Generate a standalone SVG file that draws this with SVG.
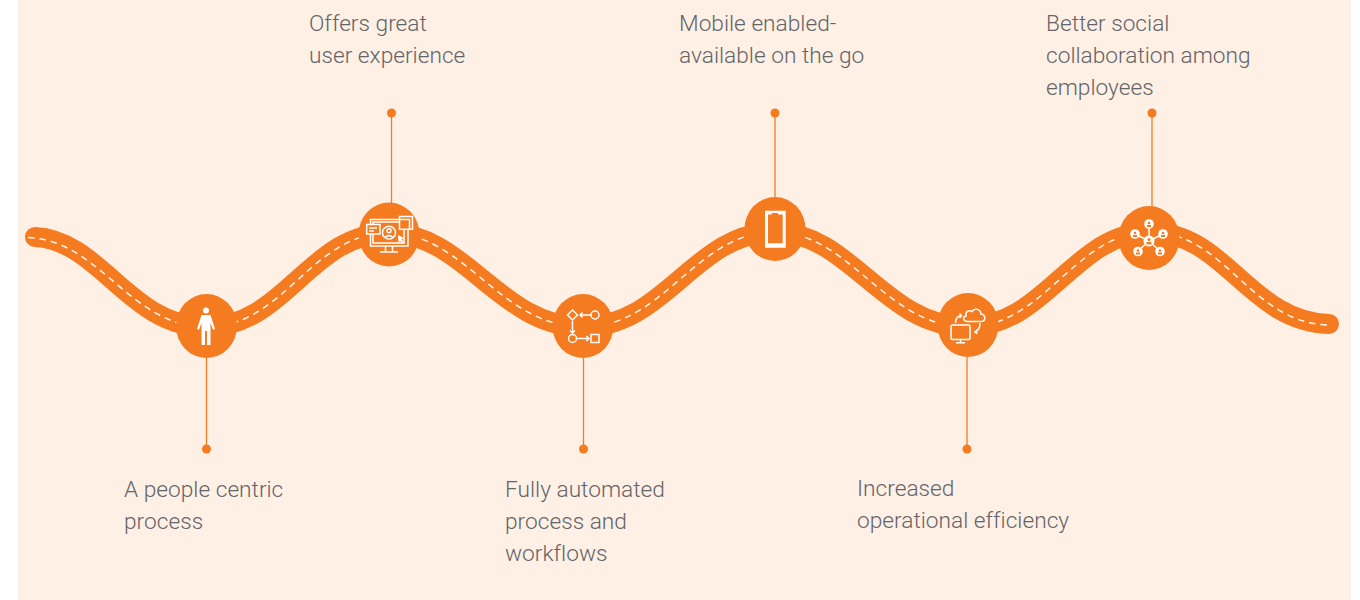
<svg xmlns="http://www.w3.org/2000/svg" width="1360" height="600" viewBox="0 0 1360 600">
<style>
.road{fill:none;stroke:#F47B20;stroke-width:20;stroke-linecap:round}
.dash{fill:none;stroke:#FFF6EF;stroke-width:1.500;stroke-dasharray:6.500 5}
.lead{stroke:#F47B20;stroke-width:1.300;fill:none}
.dot{fill:#F47B20}
.disc{fill:#F47B20}
.ic{fill:none;stroke:#fff;stroke-width:1.500}
.icf{fill:#fff;stroke:none}
.icb{fill:#F47B20;stroke:#fff;stroke-width:1.500}
text{font-family:Roboto,"Liberation Sans",sans-serif;font-weight:300;font-size:22.700px;fill:#636466;font-variant-ligatures:none}
</style>
<rect x="18" y="0" width="1333" height="600" fill="#FFF0E6"/>
<g id="connectors">
<path class="road" d="M35 237C100 240 130 327 206 327C285 327 310 233 389 233C465 233 500 327 583 327C665 327 695 232 775 232C850 232 885 327 967 327C1045 327 1075 232 1150 232C1225 232 1250 322 1329 324"/>
<path class="dash" d="M28 237.500C100 240 130 327 206 327C285 327 310 233 389 233C465 233 500 327 583 327C665 327 695 232 775 232C850 232 885 327 967 327C1045 327 1075 232 1150 232C1225 232 1250 322 1327 325"/>
<path class="lead" d="M206.500 350V449M391.500 113V215M583.500 350V449M775 113V210M967 350V449M1152 113V215"/>
<circle class="dot" cx="206.500" cy="449" r="4.500"/>
<circle class="dot" cx="391.500" cy="113" r="4.500"/>
<circle class="dot" cx="583.500" cy="449" r="4.500"/>
<circle class="dot" cx="775" cy="113" r="4.500"/>
<circle class="dot" cx="967" cy="449" r="4.500"/>
<circle class="dot" cx="1152" cy="113" r="4.500"/>
</g>
<g id="node-people">
<ellipse class="disc" cx="206.500" cy="326" rx="30.500" ry="32"/>
<circle class="icf" cx="206" cy="310.500" r="3"/>
<path class="icf" d="M201.500 315H210.500L215 329L213 329.800L210.500 323V345H207V331H205V345H201.500V323L199 329.800L197 329Z"/>
<text x="124" y="497">A people centric</text>
<text x="124" y="529">process</text>
</g>
<g id="node-experience">
<ellipse class="disc" cx="389" cy="234.500" rx="30.500" ry="32"/>
<rect class="ic" x="370.500" y="219.500" width="37.500" height="26.500"/>
<rect class="ic" x="373" y="222" width="31" height="21" stroke-width="1"/>
<path class="ic" d="M385.500 246V251.500M392.500 246V251.500M380 252H398"/>
<circle class="ic" cx="389" cy="232.700" r="6.500"/>
<circle class="ic" cx="389" cy="230.800" r="2"/>
<path class="ic" d="M384.800 237.500Q389 233.800 393.200 237.500"/>
<path class="icf" d="M398 235L404 238L401.500 239.500L404.500 242.500L403 244L400 241L398.500 243Z"/>
<rect class="icb" x="366.700" y="224.500" width="13.300" height="9.500"/>
<path class="ic" d="M369 228H377M369 231H374" stroke-width="1"/>
<rect class="icb" x="399.500" y="216.500" width="13" height="12.800"/>
<path class="ic" d="M399.500 219.500H409.500V229" stroke-width="1"/>
<text x="309" y="31">Offers great</text>
<text x="309" y="63">user experience</text>
</g>
<g id="node-workflow">
<ellipse class="disc" cx="583" cy="326" rx="30.500" ry="32"/>
<path class="ic" d="M572.500 310L577.500 315L572.500 320L567.500 315Z"/>
<circle class="ic" cx="595" cy="315" r="4"/>
<circle class="ic" cx="572.500" cy="338.500" r="4"/>
<rect class="ic" x="591" y="334.500" width="8" height="8"/>
<path class="ic" d="M591 315H580M582.500 312.500L580 315L582.500 317.500M572.500 321V333M570 330.500L572.500 333L575 330.500M577 338.500H589M586.500 336L589 338.500L586.500 341" stroke-width="1.200"/>
<text x="505" y="497">Fully automated</text>
<text x="505" y="529">process and</text>
<text x="505" y="561">workflows</text>
</g>
<g id="node-mobile">
<ellipse class="disc" cx="775" cy="229" rx="30.500" ry="32"/>
<path class="icf" fill-rule="evenodd" d="M765 210.700H785.700V247.700H765ZM768 214.500V243.300H782.700V214.500ZM771.700 213H778V214.500H771.700Z"/>
<text x="679" y="31">Mobile enabled-</text>
<text x="679" y="63">available on the go</text>
</g>
<g id="node-efficiency">
<ellipse class="disc" cx="968" cy="325" rx="30.500" ry="32"/>
<rect class="ic" x="951" y="325" width="19" height="14.500" rx="1.500"/>
<path class="ic" d="M960.500 339.500V342.500M956 342.800H965"/>
<path class="ic" d="M968 321.500H981C986 321.500 986 314.500 981 314C980.500 309 974.500 307.500 972 311.500C968 309.500 965 312.500 966 316C962 317 963 321.500 968 321.500Z"/>
<path class="ic" d="M955.500 323C955.500 318.500 957.500 316 961.500 315.800M959.500 313.800L961.500 315.800L959.500 317.800M980 323C980 328 978 331 975 332M977.500 329.500L975 332L977.500 333.500" stroke-width="1.100"/>
<text x="857" y="496">Increased</text>
<text x="857" y="528">operational efficiency</text>
</g>
<g id="node-social">
<ellipse class="disc" cx="1149" cy="238" rx="30.500" ry="32"/>
<path class="ic" d="M1149 224V241M1135 234L1149 241M1163 234L1149 241M1138 251L1149 241M1160 251L1149 241" stroke-width="1.200"/>
<g class="icf">
<circle cx="1149" cy="224" r="4.800"/><circle cx="1135" cy="234" r="4.800"/><circle cx="1163" cy="234" r="4.800"/><circle cx="1138" cy="251.500" r="4.800"/><circle cx="1160" cy="251.500" r="4.800"/><circle cx="1149" cy="241" r="5.500"/>
</g>
<g fill="#F47B20">
<circle cx="1149" cy="223" r="1.300"/><rect x="1147" y="225" width="4" height="2"/>
<circle cx="1135" cy="233" r="1.300"/><rect x="1133" y="235" width="4" height="2"/>
<circle cx="1163" cy="233" r="1.300"/><rect x="1161" y="235" width="4" height="2"/>
<circle cx="1138" cy="250.500" r="1.300"/><rect x="1136" y="252.500" width="4" height="2"/>
<circle cx="1160" cy="250.500" r="1.300"/><rect x="1158" y="252.500" width="4" height="2"/>
<circle cx="1149" cy="239.500" r="1.600"/><rect x="1146.500" y="242" width="5" height="2.500"/>
</g>
<text x="1046" y="31">Better social</text>
<text x="1046" y="63">collaboration among</text>
<text x="1046" y="95">employees</text>
</g>
</svg>
